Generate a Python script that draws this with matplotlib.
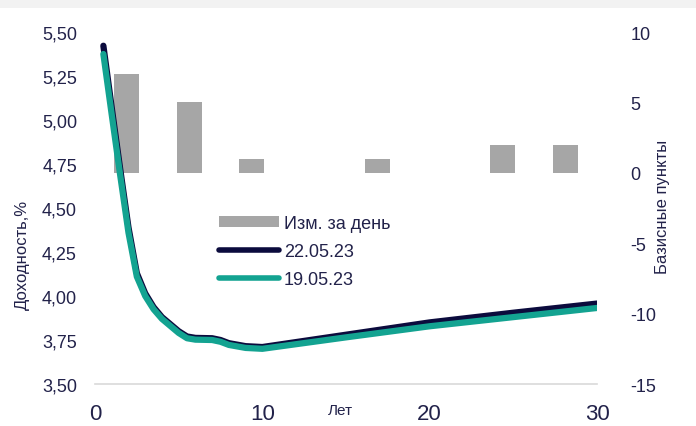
import numpy as np
import matplotlib.pyplot as plt
from matplotlib.patches import Patch, Rectangle
from matplotlib.lines import Line2D
from matplotlib.ticker import FuncFormatter

plt.rcParams['font.family'] = ['Liberation Sans', 'DejaVu Sans']
plt.rcParams['axes.unicode_minus'] = False

# Yield curves (years -> %)
tenors = [0.5, 1.0, 1.5, 2.0, 2.5, 3.0, 3.5, 4.0, 4.5, 5.0, 5.5, 6.0, 7.0, 7.5,
          8.0, 9.0, 10.0, 15.0, 20.0, 25.0, 30.0]
yld_1905 = [5.375, 5.03, 4.69, 4.36, 4.11, 4.00, 3.925, 3.87, 3.83, 3.79, 3.76,
            3.752, 3.75, 3.74, 3.722, 3.705, 3.70, 3.765, 3.828, 3.88, 3.932]
yld_2205 = [5.422, 5.07, 4.725, 4.39, 4.13, 4.015, 3.937, 3.88, 3.84, 3.80, 3.77,
            3.762, 3.76, 3.75, 3.732, 3.715, 3.71, 3.78, 3.85, 3.905, 3.957]

# Daily change, basis points (8 category slots across the chart)
bar_change = [7, 5, 1, 0, 1, 0, 2, 2]

navy = '#0b0b3d'
teal = '#13a391'
grey = '#a6a6a6'
txt = '#22224a'

fig = plt.figure(figsize=(6.96, 4.27), dpi=100)
fig.patches.append(Rectangle((0, 1 - 9 / 427), 1, 9 / 427, transform=fig.transFigure,
                             facecolor='#f2f2f2', edgecolor='none', zorder=0))

ax = fig.add_axes([95 / 696, 1 - 385 / 427, 502 / 696, 352 / 427])
ax2 = ax.twinx()

# bars on the secondary axis
n = len(bar_change)
slot = 30 / n
bar_x = [(i + 0.5) * slot for i in range(n)]
ax2.bar(bar_x, bar_change, width=1.5, color=grey, zorder=1)
ax2.set_ylim(-15, 10)
ax2.set_yticks([-15, -10, -5, 0, 5, 10])

ax.plot(tenors, yld_2205, color=navy, lw=4.5, solid_capstyle='round', zorder=3)
ax.plot(tenors, yld_1905, color=teal, lw=4.5, solid_capstyle='round', zorder=4)
ax.set_xlim(0, 30)
ax.set_ylim(3.5, 5.5)
ax.set_yticks(np.arange(3.5, 5.51, 0.25))
ax.set_xticks([0, 10, 20, 30])
ax.yaxis.set_major_formatter(FuncFormatter(lambda v, p: f'{v:.2f}'.replace('.', ',')))

ax.set_zorder(ax2.get_zorder() + 1)
ax.patch.set_visible(False)

for a in (ax, ax2):
    for s in a.spines.values():
        s.set_visible(False)
ax.spines['bottom'].set_visible(True)
ax.spines['bottom'].set_color('#d9d9d9')
ax.spines['bottom'].set_linewidth(1.2)

ax.tick_params(axis='y', length=0, pad=13, labelsize=13, labelcolor=txt)
ax.tick_params(axis='x', length=0, pad=14, labelsize=16, labelcolor=txt)
ax2.tick_params(axis='y', length=0, pad=24, labelsize=13, labelcolor=txt)

ax.text((340 - 95) / 502, (385 - 411) / 352, 'Лет', transform=ax.transAxes,
        ha='center', va='center', fontsize=11, color=txt)
fig.text(22 / 696, 1 - 255 / 427, 'Доходность,%', rotation=90, ha='center',
         va='center', fontsize=12, color=txt)
fig.text(663 / 696, 1 - 207 / 427, 'Базисные пункты', rotation=90, ha='center',
         va='center', fontsize=12, color=txt)

handles = [Patch(facecolor=grey, edgecolor='none'),
           Line2D([], [], color=navy, lw=4, solid_capstyle='round'),
           Line2D([], [], color=teal, lw=4, solid_capstyle='round')]
labels = ['Изм. за день', '22.05.23', '19.05.23']
leg = ax.legend(handles, labels, loc='upper left',
                bbox_to_anchor=(219 / 696, 1 - 216 / 427), bbox_transform=fig.transFigure,
                frameon=False, fontsize=13, handlelength=3.3, handleheight=0.5,
                handletextpad=0.3, labelspacing=0.6, borderpad=0, borderaxespad=0)
for t in leg.get_texts():
    t.set_color(txt)

fig.savefig('out.png', dpi=100)
